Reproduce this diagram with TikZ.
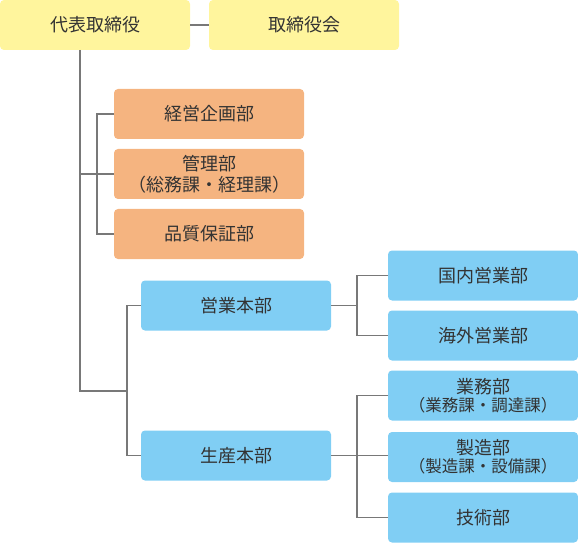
\documentclass[tikz,border=0pt]{standalone}
\usepackage{fontspec}
\setmainfont{Noto Sans CJK JP}
\usepackage{tikz}
\definecolor{boxcolor1}{RGB}{255,245,157}
\definecolor{boxcolor2}{RGB}{245,180,128}
\definecolor{boxcolor3}{RGB}{128,206,244}
\definecolor{linecolor1}{RGB}{120,120,120}
\definecolor{textcolor1}{RGB}{51,51,51}
\newcommand{\subline}[1]{{\fontsize{16.5bp}{18bp}\selectfont #1}}

\begin{document}
\begin{tikzpicture}[x=1bp,y=-1bp,inner sep=0pt,outer sep=0pt,
  orgbox/.style={rounded corners=4bp,minimum width=190bp,minimum height=50bp,
    align=center,text=textcolor1,font=\fontsize{18bp}{21bp}\selectfont},
  topbox/.style={orgbox,fill=boxcolor1},
  staffbox/.style={orgbox,fill=boxcolor2},
  linebox/.style={orgbox,fill=boxcolor3},
  orgline/.style={draw=linecolor1,line width=1.1bp}]
  \useasboundingbox (0,0) rectangle (578,543);
  % top
  \node[topbox] (daihyo) at (95,25) {代表取締役};
  \node[topbox] (torishimari) at (304,25) {取締役会};
  % staff
  \node[staffbox] (keiei) at (209,114) {経営企画部};
  \node[staffbox] (kanri) at (209,174) {管理部\\（総務課・経理課）};
  \node[staffbox] (hinshitsu) at (209,234) {品質保証部};
  % headquarters
  \node[linebox] (eigyo) at (236,305.5) {営業本部};
  \node[linebox] (seisan) at (236,455.5) {生産本部};
  % departments
  \node[linebox] (kokunai) at (483,275.5) {国内営業部};
  \node[linebox] (kaigai) at (483,335.5) {海外営業部};
  \node[linebox] (gyomu) at (483,395.5) {業務部\\[-3bp]\subline{（業務課・調達課）}};
  \node[linebox] (seizo) at (483,457) {製造部\\[-3bp]\subline{（製造課・設備課）}};
  \node[linebox] (gijutsu) at (483,517.5) {技術部};
  % buses
  \coordinate (trunkend) at (80,391);
  \coordinate (staffbus) at (97,174);
  \coordinate (hqbus) at (127,391);
  \coordinate (salesbus) at (357,305.5);
  \coordinate (prodbus) at (357,457);
  % connectors
  \draw[orgline] (daihyo.east) -- (torishimari.west);
  \draw[orgline] (trunkend |- daihyo.south) -- (trunkend) -- (hqbus);
  \draw[orgline] (trunkend |- kanri.west) -- (kanri.west);
  \draw[orgline] (keiei.west) -| (staffbus) |- (hinshitsu.west);
  \draw[orgline] (eigyo.west) -| (hqbus) |- (seisan.west);
  \draw[orgline] (eigyo.east) -- (salesbus);
  \draw[orgline] (kokunai.west) -| (salesbus) |- (kaigai.west);
  \draw[orgline] (seisan.east) -- (seisan.east -| seizo.west);
  \draw[orgline] (gyomu.west) -| (prodbus) |- (gijutsu.west);
\end{tikzpicture}
\end{document}
